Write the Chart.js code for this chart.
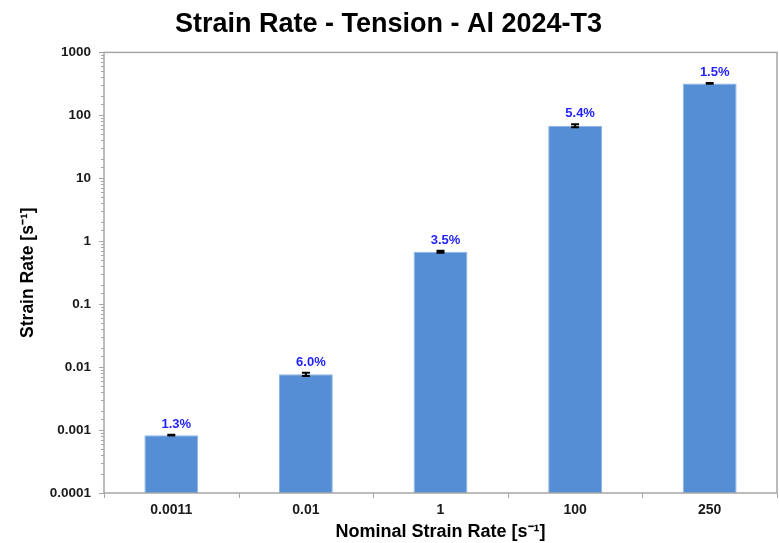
<!DOCTYPE html>
<html>
<head>
<meta charset="utf-8">
<script src="https://cdn.jsdelivr.net/npm/chart.js@4/dist/chart.umd.min.js"></script>
<style>
  html, body { margin: 0; padding: 0; background: #fff; }
  #wrap { width: 779px; height: 543px; }
</style>
</head>
<body>
<div id="wrap"><canvas id="chart" width="779" height="543"></canvas></div>
<script>
// Measured strain rates per nominal rate, with scatter in percent
const nominalRates = ["0.0011", "0.01", "1", "100", "250"]
const strainRates = [0.00083, 0.0077, 0.68, 68.5, 322]
const scatterPct = [1.3, 6.0, 3.5, 5.4, 1.5]
const yTickValues = [0.0001, 0.001, 0.01, 0.1, 1, 10, 100, 1000]

const FONT = "'Liberation Sans', Arial, sans-serif"
const AXIS_GREY = "#a6a6a6"

// Frame, tick marks, error bars and percent labels
const decorations = {
  id: "decorations",
  afterDatasetsDraw(chart) {
    const { ctx, chartArea: a, scales } = chart
    const x = scales.x
    const y = scales.y
    ctx.save()

    // plot frame
    ctx.strokeStyle = AXIS_GREY
    ctx.lineWidth = 1.5
    ctx.strokeRect(a.left, a.top, a.right - a.left, a.bottom - a.top)

    // y tick marks: long at decades, short in between
    ctx.lineWidth = 1
    y.ticks.forEach(t => {
      const py = Math.round(y.getPixelForValue(t.value)) + 0.5
      const lg = Math.log10(t.value)
      const major = Math.abs(lg - Math.round(lg)) < 1e-9
      ctx.beginPath()
      ctx.moveTo(a.left, py)
      ctx.lineTo(a.left - (major ? 5 : 3), py)
      ctx.stroke()
    })

    // x tick marks between categories
    const step = (a.right - a.left) / nominalRates.length
    for (let i = 0; i <= nominalRates.length; i++) {
      const px = Math.round(a.left + i * step) + 0.5
      ctx.beginPath()
      ctx.moveTo(px, a.bottom)
      ctx.lineTo(px, a.bottom + 5)
      ctx.stroke()
    }

    // error bars
    ctx.strokeStyle = "#000"
    ctx.lineWidth = 2
    strainRates.forEach((v, i) => {
      const px = x.getPixelForValue(i)
      const d = v * scatterPct[i] / 100
      const yHi = y.getPixelForValue(v + d)
      const yLo = y.getPixelForValue(v - d)
      ctx.beginPath()
      ctx.moveTo(px, yHi); ctx.lineTo(px, yLo)
      ctx.moveTo(px - 4, yHi); ctx.lineTo(px + 4, yHi)
      ctx.moveTo(px - 4, yLo); ctx.lineTo(px + 4, yLo)
      ctx.stroke()
    })

    // percent labels above the bars
    ctx.fillStyle = "#1f1fff"
    ctx.font = "bold 13px " + FONT
    ctx.textAlign = "center"
    ctx.textBaseline = "alphabetic"
    strainRates.forEach((v, i) => {
      const px = x.getPixelForValue(i)
      const py = y.getPixelForValue(v * (1 + scatterPct[i] / 100))
      ctx.fillText(scatterPct[i].toFixed(1) + "%", px + 5, py - 7)
    })

    ctx.restore()
  }
}

new Chart(document.getElementById("chart"), {
  type: "bar",
  data: {
    labels: nominalRates,
    datasets: [{
      data: strainRates,
      backgroundColor: "#558ed5",
      borderColor: "#8db4e3",
      borderWidth: 1,
      categoryPercentage: 1,
      barPercentage: 0.4
    }]
  },
  options: {
    responsive: false,
    animation: false,
    devicePixelRatio: 1,
    layout: { padding: { top: 0, right: 2, bottom: 0, left: 0 } },
    plugins: {
      legend: { display: false },
      tooltip: { enabled: false },
      title: {
        display: true,
        text: "Strain Rate - Tension - Al 2024-T3",
        color: "#000",
        font: { family: FONT, size: 27, weight: "bold", lineHeight: 1.2 },
        padding: { top: 8, bottom: 12 }
      }
    },
    scales: {
      x: {
        grid: { display: false, drawTicks: false },
        border: { display: false },
        ticks: {
          color: "#1a1a1a",
          font: { family: FONT, size: 14, weight: "bold" },
          padding: 9
        },
        title: {
          display: true,
          text: "Nominal Strain Rate [s\u207B\u00B9]",
          color: "#000",
          font: { family: FONT, size: 18, weight: "bold" },
          padding: { top: 2, bottom: 0 }
        },
        afterFit(scale) { scale.height = 50 }
      },
      y: {
        type: "logarithmic",
        min: 0.0001,
        max: 1000,
        grid: { display: false, drawTicks: false },
        border: { display: false },
        ticks: {
          color: "#1a1a1a",
          font: { family: FONT, size: 13.5, weight: "bold" },
          padding: 13,
          autoSkip: false,
          callback: (value) => {
            const hit = yTickValues.find(t => Math.abs(t - value) / t < 1e-6)
            return hit === undefined ? "" : String(hit)
          }
        },
        title: {
          display: true,
          text: "Strain Rate [s\u207B\u00B9]",
          color: "#000",
          font: { family: FONT, size: 17.5, weight: "bold" },
          padding: { top: 18, bottom: 0 }
        },
        afterFit(scale) { scale.width = 104 }
      }
    }
  },
  plugins: [decorations]
})
</script>
</body>
</html>
